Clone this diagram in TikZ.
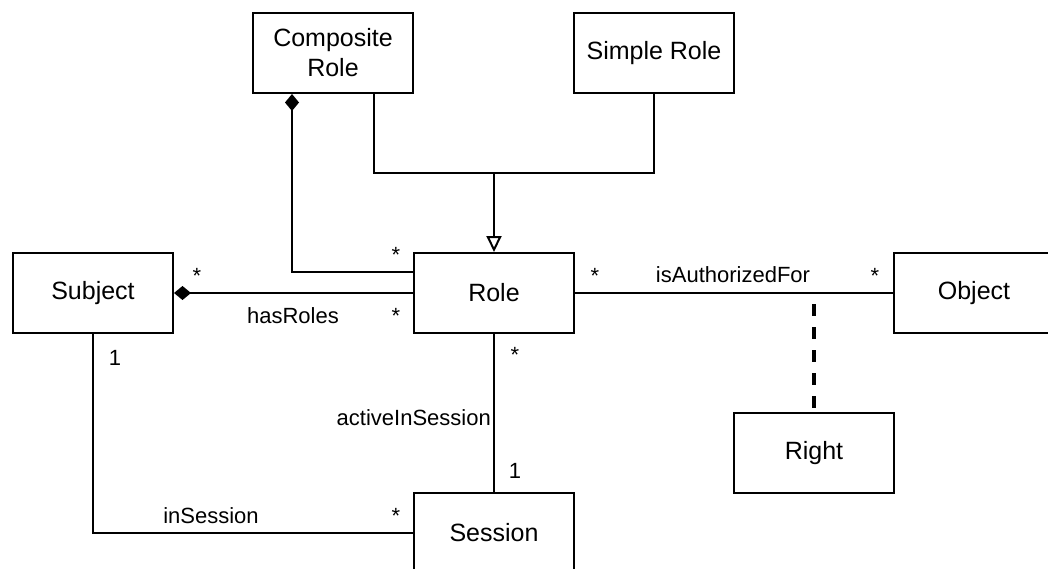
\documentclass[tikz,border=0pt]{standalone}
\usepackage{fontspec}
\setmainfont{Liberation Sans}
\usetikzlibrary{arrows.meta}
\begin{document}
\begin{tikzpicture}[x=1pt,y=-1pt,
  cls/.style={draw, line width=2pt, minimum width=160pt, minimum height=80pt, inner sep=0pt, align=center, font=\fontsize{25}{30}\selectfont},
  conn/.style={line width=2pt},
  lbl/.style={font=\fontsize{22}{26}\selectfont, inner sep=0pt},
  mult/.style={font=\fontsize{22}{26}\selectfont, inner sep=0pt, anchor=base},
  compo/.style={{Diamond[length=17pt,width=14pt]}-},
  gen/.style={-{Triangle[open,length=16pt,width=15pt,line width=2pt]}},
  assocdash/.style={line width=4pt, dash pattern=on 12pt off 11pt, dash phase=12pt}]
\clip (0,0) rectangle (1048,569);
\fill[white] (0,0) rectangle (1048,569);

% classes
\node[cls] (comp) at (333,53) {Composite\\Role};
\node[cls] (simple) at (654,53) {Simple Role};
\node[cls] (subject) at (93,293) {Subject};
\node[cls] (role) at (494,293) {Role};
\node[cls] (object) at (974,293) {Object};
\node[cls] (right) at (814,453) {Right};
\node[cls] (session) at (494,533) {Session};

% generalization
\coordinate (gj) at (494,173);
\draw[conn] ([xshift=-40pt]comp.south east) |- (gj) -| (simple.south);
\draw[conn,gen] (gj) -- (role.north);

% composition Composite Role -- Role
\draw[conn,compo] ([xshift=40pt]comp.south west) |- ([yshift=-20pt]role.north west);
\node[mult] (m1) at (396,262) {*};

% hasRoles
\draw[conn,compo] (subject.east) -- (role.west);
\node[mult] (m2) at (197,283) {*};
\node[mult] (m3) at (396,323) {*};
\node[lbl] (l1) at (293,316) {hasRoles};

% isAuthorizedFor
\draw[conn] (role.east) -- (object.west);
\node[mult] (m4) at (595,283) {*};
\node[mult] (m5) at (875,283) {*};
\node[lbl] (l2) at (733,275) {isAuthorizedFor};
\coordinate (auth) at (right.north |- role.east);
\draw[assocdash] (auth) -- (right.north);

% activeInSession
\draw[conn] (role.south) -- (session.north);
\node[mult] (m6) at (515,362) {*};
\node[mult] (m7) at (515,478) {1};
\node[lbl, anchor=east] (l3) at (491,418) {activeInSession};

% inSession
\draw[conn] (subject.south) |- (session.west);
\node[mult] (m8) at (115,365) {1};
\node[mult] (m9) at (396,523) {*};
\node[lbl] (l4) at (211,516) {inSession};
\end{tikzpicture}
\end{document}
